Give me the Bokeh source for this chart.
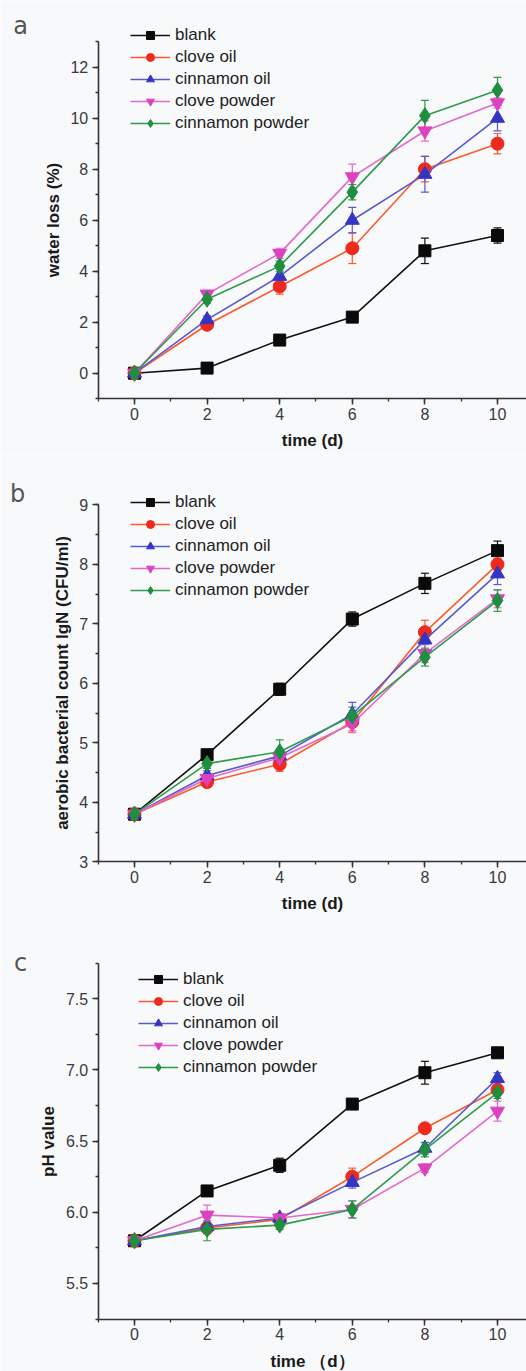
from bokeh.plotting import figure
from bokeh.models import (ColumnDataSource, Whisker, TeeHead, Legend, LegendItem,
                          SingleIntervalTicker, NumeralTickFormatter, Label, Range1d)
from bokeh.layouts import column
from bokeh.embed import file_html
from bokeh.resources import INLINE

days = [0, 2, 4, 6, 8, 10]
series_names = ["blank", "clove oil", "cinnamon oil", "clove powder", "cinnamon powder"]

# (a) water loss (%)
wl_blank = [0, 0.2, 1.3, 2.2, 4.8, 5.4]
wl_blank_err = [0.05, 0.1, 0.1, 0.1, 0.5, 0.3]
wl_clove_oil = [0, 1.9, 3.4, 4.9, 8.0, 9.0]
wl_clove_oil_err = [0.05, 0.15, 0.3, 0.6, 0.5, 0.4]
wl_cinn_oil = [0, 2.1, 3.8, 6.0, 7.8, 10.0]
wl_cinn_oil_err = [0.05, 0.15, 0.3, 0.5, 0.7, 0.5]
wl_clove_powder = [0, 3.1, 4.7, 7.7, 9.5, 10.6]
wl_clove_powder_err = [0.05, 0.15, 0.2, 0.5, 0.4, 0.2]
wl_cinn_powder = [0, 2.9, 4.2, 7.1, 10.1, 11.1]
wl_cinn_powder_err = [0.05, 0.15, 0.2, 0.3, 0.6, 0.5]

# (b) aerobic bacterial count lgN (CFU/ml)
bc_blank = [3.8, 4.8, 5.9, 7.08, 7.68, 8.23]
bc_blank_err = [0.05, 0.06, 0.1, 0.12, 0.17, 0.16]
bc_clove_oil = [3.8, 4.34, 4.64, 5.35, 6.86, 8.0]
bc_clove_oil_err = [0.05, 0.08, 0.12, 0.15, 0.2, 0.1]
bc_cinn_oil = [3.8, 4.45, 4.78, 5.48, 6.73, 7.84]
bc_cinn_oil_err = [0.05, 0.08, 0.1, 0.2, 0.2, 0.18]
bc_clove_powder = [3.8, 4.4, 4.75, 5.32, 6.5, 7.42]
bc_clove_powder_err = [0.05, 0.08, 0.1, 0.15, 0.15, 0.15]
bc_cinn_powder = [3.8, 4.65, 4.85, 5.45, 6.44, 7.39]
bc_cinn_powder_err = [0.05, 0.08, 0.2, 0.15, 0.15, 0.18]

# (c) pH value
ph_blank = [5.8, 6.15, 6.33, 6.76, 6.98, 7.12]
ph_blank_err = [0.02, 0.02, 0.05, 0.02, 0.08, 0.02]
ph_clove_oil = [5.8, 5.89, 5.95, 6.25, 6.59, 6.86]
ph_clove_oil_err = [0.02, 0.04, 0.03, 0.06, 0.02, 0.03]
ph_cinn_oil = [5.8, 5.9, 5.96, 6.21, 6.45, 6.94]
ph_cinn_oil_err = [0.02, 0.04, 0.03, 0.04, 0.04, 0.04]
ph_clove_powder = [5.8, 5.98, 5.96, 6.02, 6.31, 6.71]
ph_clove_powder_err = [0.02, 0.07, 0.03, 0.06, 0.03, 0.07]
ph_cinn_powder = [5.8, 5.88, 5.91, 6.02, 6.44, 6.84]
ph_cinn_powder_err = [0.02, 0.08, 0.03, 0.06, 0.05, 0.04]

line_colors = ["#111111", "#ff5a2a", "#5a5ad0", "#e468cc", "#2e9a4c"]
marker_colors = ["#0a0a0a", "#ee2a1e", "#3535c4", "#dc42c0", "#1f8e3e"]
markers = ["square", "circle", "triangle", "inverted_triangle", "diamond"]
msizes = [12, 13, 14, 14, 16]

BG = "#f8f9fb"
FONT = "Liberation Sans"
AX = "#333333"

X_VIEW = (-3.691, 10.799)   # visible x span of each panel
X_AXIS = (-1, 11)           # drawn extent of the x axis


def make_panel(values, errs, y_view, y_axis, y_int, ylabel, xlabel, letter, h,
               legend_loc, letter_pos, yfmt=None):
    p = figure(width=526, height=h, output_backend="svg", toolbar_location=None,
               x_range=Range1d(*X_VIEW), y_range=Range1d(*y_view),
               min_border_left=0, min_border_right=0, min_border_top=0,
               min_border_bottom=0, background_fill_color=BG, border_fill_color=BG,
               outline_line_color=None)
    p.xgrid.visible = False
    p.ygrid.visible = False
    p.xaxis.ticker = SingleIntervalTicker(interval=2, num_minor_ticks=2)
    p.yaxis.ticker = SingleIntervalTicker(interval=y_int, num_minor_ticks=2)
    if yfmt:
        p.yaxis.formatter = NumeralTickFormatter(format=yfmt)
    p.xaxis.fixed_location = y_axis[0]
    p.yaxis.fixed_location = X_AXIS[0]
    p.xaxis.bounds = X_AXIS
    p.yaxis.bounds = y_axis
    for ax in (p.xaxis, p.yaxis):
        ax.axis_line_color = AX
        ax.axis_line_width = 1.6
        ax.major_tick_line_color = AX
        ax.major_tick_line_width = 1.5
        ax.minor_tick_line_color = AX
        ax.minor_tick_line_width = 1.3
        ax.major_tick_out = 6
        ax.major_tick_in = 0
        ax.minor_tick_out = 3
        ax.minor_tick_in = 0
        ax.major_label_text_font = FONT
        ax.major_label_text_font_size = "16px"
        ax.major_label_text_color = "#3a3a3a"
        ax.axis_label_text_font = FONT
        ax.axis_label_text_font_style = "bold"
        ax.axis_label_text_font_size = "17px"
        ax.axis_label_text_color = "#1a1a1a"
    p.xaxis.major_label_standoff = 3
    p.yaxis.major_label_standoff = 4
    p.xaxis.axis_label = xlabel
    p.yaxis.axis_label = ylabel
    p.xaxis.axis_label_standoff = 8
    p.yaxis.axis_label_standoff = 5

    items = []
    for i, name in enumerate(series_names):
        v = values[i]
        e = errs[i]
        src = ColumnDataSource(dict(x=days, y=v,
                                    upper=[a + b for a, b in zip(v, e)],
                                    lower=[a - b for a, b in zip(v, e)]))
        w = Whisker(source=src, base="x", upper="upper", lower="lower",
                    line_color=line_colors[i], line_width=1.2,
                    upper_head=TeeHead(size=8, line_color=line_colors[i], line_width=1.2),
                    lower_head=TeeHead(size=8, line_color=line_colors[i], line_width=1.2))
        p.add_layout(w)
        r_line = p.line("x", "y", source=src, line_color=line_colors[i], line_width=1.6)
        r_mark = p.scatter("x", "y", source=src, marker=markers[i], size=msizes[i],
                           fill_color=marker_colors[i], line_color=marker_colors[i])
        items.append(LegendItem(label=name, renderers=[r_line, r_mark]))

    legend = Legend(items=items, location=legend_loc, padding=2, margin=0,
                    spacing=2, glyph_width=40, glyph_height=20, label_height=20,
                    label_standoff=5, label_text_font=FONT, label_text_font_size="17px",
                    label_text_color="#222222", border_line_alpha=0,
                    background_fill_alpha=0)
    p.add_layout(legend, "center")
    p.add_layout(Label(x=letter_pos[0], y=letter_pos[1], x_units="screen", y_units="screen",
                       text=letter, text_font="DejaVu Sans", text_font_size="24px",
                       text_color="#555555", text_align="center", text_baseline="middle"))
    return p


pa = make_panel([wl_blank, wl_clove_oil, wl_cinn_oil, wl_clove_powder, wl_cinn_powder],
                [wl_blank_err, wl_clove_oil_err, wl_cinn_oil_err, wl_clove_powder_err,
                 wl_cinn_powder_err],
                (-3.227, 14.616), (-1, 13), 2, "water loss (%)", "time (d)", "a", 455,
                (128, 320), (20, 430))
pb = make_panel([bc_blank, bc_clove_oil, bc_cinn_oil, bc_clove_powder, bc_cinn_powder],
                [bc_blank_err, bc_clove_oil_err, bc_cinn_oil_err, bc_clove_powder_err,
                 bc_cinn_powder_err],
                (2.047, 9.829), (3, 9), 1, "aerobic bacterial count lgN (CFU/ml)", "time (d)",
                "b", 463, (128, 316), (17, 425))
pc = make_panel([ph_blank, ph_clove_oil, ph_cinn_oil, ph_clove_powder, ph_cinn_powder],
                [ph_blank_err, ph_clove_oil_err, ph_cinn_oil_err, ph_clove_powder_err,
                 ph_cinn_powder_err],
                (4.882, 8.063), (5.25, 7.75), 0.5, "pH value", "time （d）", "c", 453,
                (136, 292), (20, 409), yfmt="0.0")

layout = column(pa, pb, pc, spacing=0)
open("out.html", "w").write(file_html(layout, INLINE))
